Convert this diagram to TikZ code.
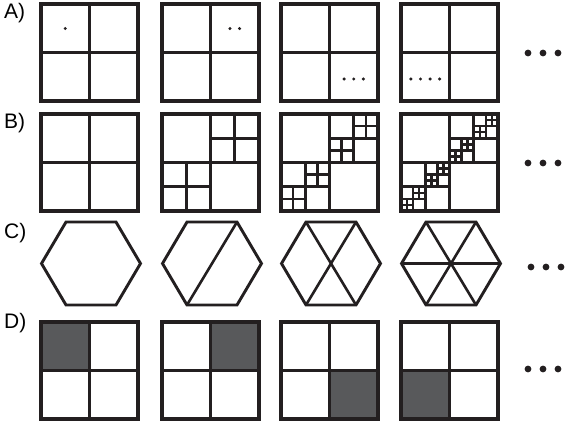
\documentclass[tikz,border=0pt]{standalone}
\usepackage{fontspec}
\setmainfont{Liberation Sans}
\usepackage{tikz}
\usetikzlibrary{calc}
\definecolor{figK}{RGB}{35,31,32}
\definecolor{figS}{RGB}{88,89,91}
\tikzset{
  frame/.style={line width=3.1pt, draw=figK},
  cross/.style={line width=2.6pt, draw=figK},
  rowlabel/.style={font=\fontsize{21}{21}\selectfont, anchor=base west, inner sep=0pt},
  bigdot/.style={fill=figK},
  tinydot/.style={fill=figK},
}
% split a square: #1,#2 top-left corner, #3 side, #4 depth
\newcommand\splitsq[4]{%
  \begin{scope}
  \edef\px{#1}\edef\py{#2}\edef\ps{#3}\edef\pd{#4}%
  \pgfmathsetmacro\hs{\ps/2}
  \draw[cross] (\px+\hs,\py) -- (\px+\hs,\py+\ps);
  \draw[cross] (\px,\py+\hs) -- (\px+\ps,\py+\hs);
  \ifnum\pd>0
    \pgfmathsetmacro\xa{\px+\hs}
    \pgfmathsetmacro\ya{\py+\hs}
    \pgfmathtruncatemacro\dd{\pd-1}
    \splitsq{\xa}{\py}{\hs}{\dd}% top right
    \splitsq{\px}{\ya}{\hs}{\dd}% bottom left
  \fi
  \end{scope}%
}

\begin{document}
\begin{tikzpicture}[x=1pt, y=-1pt]
\useasboundingbox (0,0) rectangle (565,421);
% ===== row A: dots counted in one quadrant =====
\begin{scope}
\node[rowlabel] (labA) at (4,18.6) {A)};
\foreach \xl/\n/\qx/\qy in {41/1/0/0, 162/2/1/0, 281/3/1/1, 401/4/0/1}{
  \splitsq{\xl}{4}{97}{0}
  \draw[frame] (\xl,4) rectangle ++(97,97);
  % dots centred in the quadrant
  \pgfmathsetmacro\cx{\xl+24.25+48.5*\qx}
  \pgfmathsetmacro\cy{28.5+50.5*\qy}
  \foreach \k in {1,...,\n}{
    \fill[tinydot] ({\cx+9.6*(\k-(\n+1)/2)},\cy) circle (1.7);
  }
}
\foreach \dx in {528,543,558} \fill[bigdot] (\dx,53) circle (3.4);
\end{scope}
% ===== row B: recursive quadrants =====
\begin{scope}
\node[rowlabel] (labB) at (4,128.6) {B)};
\foreach \xl/\d in {41/0, 162/1, 281/2, 401/3}{
  \splitsq{\xl}{114}{97}{\d}
  \draw[frame] (\xl,114) rectangle ++(97,97);
}
\foreach \dx in {528,543,558} \fill[bigdot] (\dx,163) circle (3.4);
\end{scope}
% ===== row C: hexagons =====
\begin{scope}
\node[rowlabel] (labC) at (4,238.6) {C)};
\foreach \c/\xl in {1/41, 2/162, 3/281, 4/401}{
  \pgfmathsetmacro\hx{\xl+50}
  \coordinate (h\c-1) at (\hx-49.5,263.5);
  \coordinate (h\c-2) at (\hx-25,222);
  \coordinate (h\c-3) at (\hx+25,222);
  \coordinate (h\c-4) at (\hx+49.5,263.5);
  \coordinate (h\c-5) at (\hx+25,305);
  \coordinate (h\c-6) at (\hx-25,305);
}
\draw[cross] (h2-3) -- (h2-6);
\draw[cross] (h3-2) -- (h3-5);
\draw[cross] (h3-3) -- (h3-6);
\draw[cross] (h4-1) -- (h4-4);
\draw[cross] (h4-2) -- (h4-5);
\draw[cross] (h4-3) -- (h4-6);
\foreach \c in {1,...,4}
  \draw[frame, line width=2.9pt] (h\c-1) -- (h\c-2) -- (h\c-3) -- (h\c-4) -- (h\c-5) -- (h\c-6) -- cycle;
\foreach \dx in {531,546,561} \fill[bigdot] (\dx,267) circle (3.4);
\end{scope}
% ===== row D: one shaded quadrant going round =====
\begin{scope}
\node[rowlabel] (labD) at (4,328.6) {D)};
\foreach \xl/\qx/\qy in {41/0/0, 162/1/0, 281/1/1, 401/0/1}{
  \fill[figS] (\xl+48.5*\qx,322+48.5*\qy) rectangle ++(48.5,48.5);
  \splitsq{\xl}{322}{97}{0}
  \draw[frame] (\xl,322) rectangle ++(97,97);
}
\foreach \dx in {528,543,558} \fill[bigdot] (\dx,369) circle (3.4);
\end{scope}
\end{tikzpicture}
\end{document}
